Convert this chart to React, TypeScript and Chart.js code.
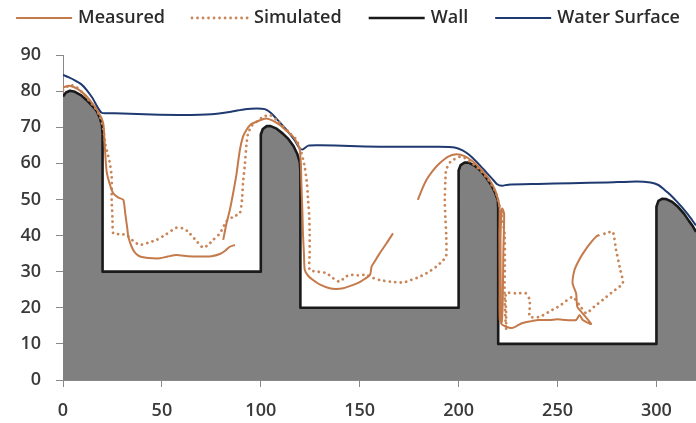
import React, { useEffect, useRef } from "react";
import { Chart, registerables } from "chart.js";

Chart.register(...registerables);

type P = { x: number; y: number | null };
const pts = (a: number[][]): P[] => a.map(([x, y]) => ({ x, y: Number.isNaN(y) ? null : y }));
const GAP = NaN;

const xTickValues = [0, 50, 100, 150, 200, 250, 300];
const yTickValues = [0, 10, 20, 30, 40, 50, 60, 70, 80, 90];
const seriesLabels = ["Measured", "Simulated", "Wall", "Water Surface"];

const wallPoints = [
  [0, 78.5], [1.5, 79.6], [3.5, 80.1], [6, 79.8], [9, 78.9], [12, 77.5], [15, 75.8], [17, 74.5], [18.7, 72.5], [19.7, 70.5], [20, 68], [20, 30],
  [100, 30], [100, 68], [101, 69.5], [103, 70.3], [105, 70.3], [108, 69.6], [111, 68.3], [114, 66.7], [116.5, 64.8], [118.5, 62.5], [119.7, 60.3], [120, 58], [120, 20],
  [200, 20], [200, 58], [201, 59.5], [203, 60.2], [205, 60.2], [208, 59.4], [211, 58], [214, 56], [216.5, 54], [218.5, 51.8], [219.8, 49.8], [220, 47.5], [220, 10],
  [300, 10], [300, 48], [301, 49.6], [303, 50.2], [305, 50.1], [308, 49.3], [311, 47.9], [314, 46], [316.5, 44], [318.5, 42.5], [320, 41],
];

const waterPoints = [
  [0, 84.5], [3, 83.8], [6, 83], [9, 82], [12, 80.3], [15, 78], [17.5, 75.5], [19.5, 74], [22, 73.9], [30, 73.8], [45, 73.5], [60, 73.4], [75, 73.6], [85, 74.3], [92, 75], [98, 75.2], [102, 75],
  [105, 74], [108, 72.3], [111, 70.5], [114, 68.6], [117, 66.5], [119.5, 64.3], [121, 63.8], [124, 64.9], [130, 65], [145, 64.8], [160, 64.6], [175, 64.6], [190, 64.6], [198, 64.4],
  [202, 63.6], [205, 62.5], [208, 61], [211, 59.3], [214, 57.5], [217, 55.7], [219.5, 54.2], [222, 53.8], [225, 54.1], [240, 54.3], [257, 54.5], [275, 54.7], [290, 55], [297, 54.7],
  [301, 54], [304, 52.7], [307, 51.3], [310, 49.6], [313, 47.8], [316, 45.8], [318, 44.3], [320, 42.8],
];

const measuredPoints = [
  [0, 81], [3, 81.5], [6, 81], [9, 80], [12, 78.5], [15, 76.5], [17.5, 74.5], [19.5, 72.5], [20.5, 70.5], [21, 66], [22, 58], [23.5, 54.5], [25.4, 51.7], [28, 50.5], [30.5, 49.9],
  [31.5, 46], [32.5, 42], [33, 39.7], [34.7, 36.9], [36.5, 35.2], [38.9, 34.2], [43, 33.8], [49, 33.7], [53, 34.2], [57.4, 34.6], [63, 34.3], [69.2, 34.2], [75, 34.3], [79.3, 34.9],
  [82, 35.8], [84.3, 36.9], [86.9, 37.4], [86.9, GAP],
  [81, 38.8], [82.5, 43], [84.3, 47], [86, 51.7], [87.7, 57], [89.4, 63.7], [91, 67.4], [92.8, 69.3], [95, 70.8], [97.8, 71.5], [100, 72], [102.9, 72.4], [106, 71.8], [109.6, 70.6],
  [113, 69], [116.3, 67.4], [118.5, 65.5], [119.7, 63.7], [120.3, 59], [120.5, 54.5], [121, 47], [121.3, 40.6], [121.8, 35], [122.2, 30.5], [124, 28.8], [126.4, 27.7], [130, 26.4],
  [134.8, 25.4], [138, 25.2], [141.6, 25.4], [146, 26.2], [150.2, 27.2], [155.2, 29.1], [156, 31.4], [158, 33.2], [160, 35], [163.5, 37.8], [166.8, 40.6], [166.8, GAP],
  [179.4, 49.9], [181.5, 52.8], [183.7, 55.4], [187, 58], [190.4, 60], [194.5, 61.8], [198.8, 62.5], [203, 62], [207.2, 60.5], [211, 58.5], [215.7, 55.4], [218.5, 52.5], [219.9, 49.9],
  [220.7, 48], [220.6, 40], [220.7, 26.8], [220.8, 16.6], [221.8, 16], [222.3, 22], [222.6, 35], [223, 46], [222, 47.5], [221.2, 40], [221.3, 25], [221.5, 15.7], [224, 14.8],
  [227, 14.4], [229.5, 15], [232, 15.7], [236, 16.2], [240, 16.6], [246, 16.6], [250, 16.8],
  [254.4, 16.6], [259.4, 16.6], [261.1, 18], [262.8, 16.6], [267, 15.5], [262.6, 18.5], [260, 20.3], [259.4, 24], [257.6, 26.8], [258.6, 30.5], [260.5, 32.8], [262.8, 35],
  [266, 37.5], [269.5, 39.7], [271.2, 40.2],
];

const simulatedPoints = [
  [0, 80.3], [3.5, 81.7], [7, 81], [10, 79.5], [13, 77.5], [16, 75.5], [18.7, 73], [20.5, 69], [21.5, 65], [22.5, 62.8], [23.7, 60], [24.6, 56.3], [24.6, 49.9], [25, 45], [25.4, 40.6],
  [28, 40.4], [32, 40.2], [35.5, 38.5], [38.9, 37.4], [43, 38], [47.3, 38.8], [52, 40.3], [57.4, 42.2], [60.5, 42], [63, 41.2], [67, 38.8], [70.9, 36.6], [73.5, 37.5], [75.9, 38.8],
  [79.3, 40.6], [82.6, 43.9], [86, 45.2], [89.4, 46.2], [90.5, 50], [91, 54.5], [92, 60], [92.8, 65.5], [93.6, 68.3], [95.5, 70.5], [97.8, 71.5], [101, 72.8], [104.5, 73.4],
  [108, 72], [111.3, 70.2], [114.8, 68.3], [118, 66.5], [120.5, 63], [122.2, 59], [123.3, 54.5], [123.9, 49.9], [124.5, 45], [124.7, 40.6], [124.7, 35], [124.7, 30.5], [129, 30],
  [133.2, 29.6], [136.5, 28.2], [139.9, 27.2], [142.5, 28.5], [145, 29.1], [149, 29], [153.4, 29.1], [157, 28.2], [160, 27.7], [166, 27.2], [171.9, 27], [176, 27.7], [180.3, 28.6],
  [184.5, 29.8], [188.7, 31.4], [191.5, 32.8], [193.7, 34.2], [193.7, 40.6], [193.3, 45], [193, 49.9], [193.3, 55], [193.7, 58.2], [196, 60.5], [200.5, 61.8], [203, 61.5],
  [207, 60], [211, 58], [215, 55.5], [219, 51.7], [221.5, 46], [223.2, 40.6], [223.4, 32], [223.2, 24.9], [223.5, 19], [224, 13.8], [224, 19], [224, 24], [229, 24], [234, 24],
  [235.9, 22.2], [235.9, 19.5], [235.9, 17.5], [241, 17.5], [246, 19], [251, 20.5], [257.6, 23], [261, 20.8], [264.5, 18.5], [268.5, 20.3], [272.9, 22.2], [278, 24.5], [283, 26.8],
  [281.5, 31], [279.6, 36], [277.9, 41.1], [274.5, 40.6], [271.2, 40.2],
];

const FONT = "'Open Sans', 'DejaVu Sans', sans-serif";

const lineLegend = {
  id: "lineLegend",
  afterDraw(chart: any) {
    const ctx = chart.ctx;
    const sets = chart.data.datasets;
    const lineW = 56, textGap = 6, itemGap = 27, cy = 18;
    ctx.save();
    ctx.font = `600 18px ${FONT}`;
    const widths = sets.map((d: any) => ctx.measureText(d.label).width);
    const total = widths.reduce((a: number, w: number) => a + lineW + textGap + w, 0) + itemGap * (sets.length - 1);
    let x = (chart.width - total) / 2;
    sets.forEach((d: any, i: number) => {
      ctx.beginPath();
      ctx.strokeStyle = d.borderColor;
      ctx.lineWidth = d.borderWidth;
      ctx.lineCap = d.borderCapStyle || "butt";
      ctx.setLineDash(d.borderDash || []);
      ctx.moveTo(x, cy);
      ctx.lineTo(x + lineW, cy);
      ctx.stroke();
      ctx.setLineDash([]);
      ctx.fillStyle = "#2b2b2b";
      ctx.textAlign = "left";
      ctx.textBaseline = "middle";
      ctx.fillText(d.label, x + lineW + textGap, cy);
      x += lineW + textGap + widths[i] + itemGap;
    });
    ctx.restore();
  },
};

export default function App() {
  const ref = useRef<HTMLCanvasElement>(null);
  useEffect(() => {
    document.body.style.margin = "0";
    const brown = "#C47A4A";
    const tickFont = { family: FONT, size: 18, weight: 600 as any };
    const chart = new Chart(ref.current!, {
      type: "line",
      data: {
        datasets: [
          { label: seriesLabels[0], data: pts(measuredPoints), borderColor: brown, borderWidth: 2, pointRadius: 0, tension: 0.2, fill: false, spanGaps: false },
          { label: seriesLabels[1], data: pts(simulatedPoints), borderColor: "#C98658", borderWidth: 2.8, borderDash: [0.01, 5.5], borderCapStyle: "round", pointRadius: 0, tension: 0.2, fill: false },
          { label: seriesLabels[2], data: pts(wallPoints), borderColor: "#1a1a1a", borderWidth: 2.6, pointRadius: 0, tension: 0, fill: "origin", backgroundColor: "#808080", borderJoinStyle: "round" },
          { label: seriesLabels[3], data: pts(waterPoints), borderColor: "#1F3A70", borderWidth: 2, pointRadius: 0, tension: 0.2, fill: false },
        ] as any,
      },
      options: {
        animation: false,
        responsive: false,
        devicePixelRatio: 1,
        layout: { padding: { top: 55, left: 0, right: 0, bottom: 0 } },
        plugins: { legend: { display: false }, tooltip: { enabled: false } },
        scales: {
          x: {
            type: "linear",
            min: 0,
            max: 320,
            afterFit: (s: any) => { s.height = 43; s.paddingLeft = 0; s.paddingRight = 0; },
            afterBuildTicks: (s: any) => { s.ticks = xTickValues.map((v) => ({ value: v })); },
            grid: { display: true, drawOnChartArea: false, drawTicks: true, tickLength: 7, color: "#888888" },
            border: { display: true, color: "#888888", width: 1 },
            ticks: { padding: 13, color: "#3a3a3a", font: tickFont, maxRotation: 0 },
          },
          y: {
            type: "linear",
            min: 0,
            max: 90,
            afterFit: (s: any) => { s.width = 63; s.paddingTop = 0; s.paddingBottom = 0; },
            afterBuildTicks: (s: any) => { s.ticks = yTickValues.map((v) => ({ value: v })); },
            grid: { display: true, drawOnChartArea: false, drawTicks: true, tickLength: 7, color: "#888888" },
            border: { display: true, color: "#888888", width: 1 },
            ticks: { padding: 15, color: "#3a3a3a", font: tickFont },
          },
        },
      },
      plugins: [lineLegend],
    });
    return () => chart.destroy();
  }, []);
  return (
    <div style={{ width: 696, height: 423, background: "#fff" }}>
      <canvas ref={ref} width={696} height={423} />
    </div>
  );
}
